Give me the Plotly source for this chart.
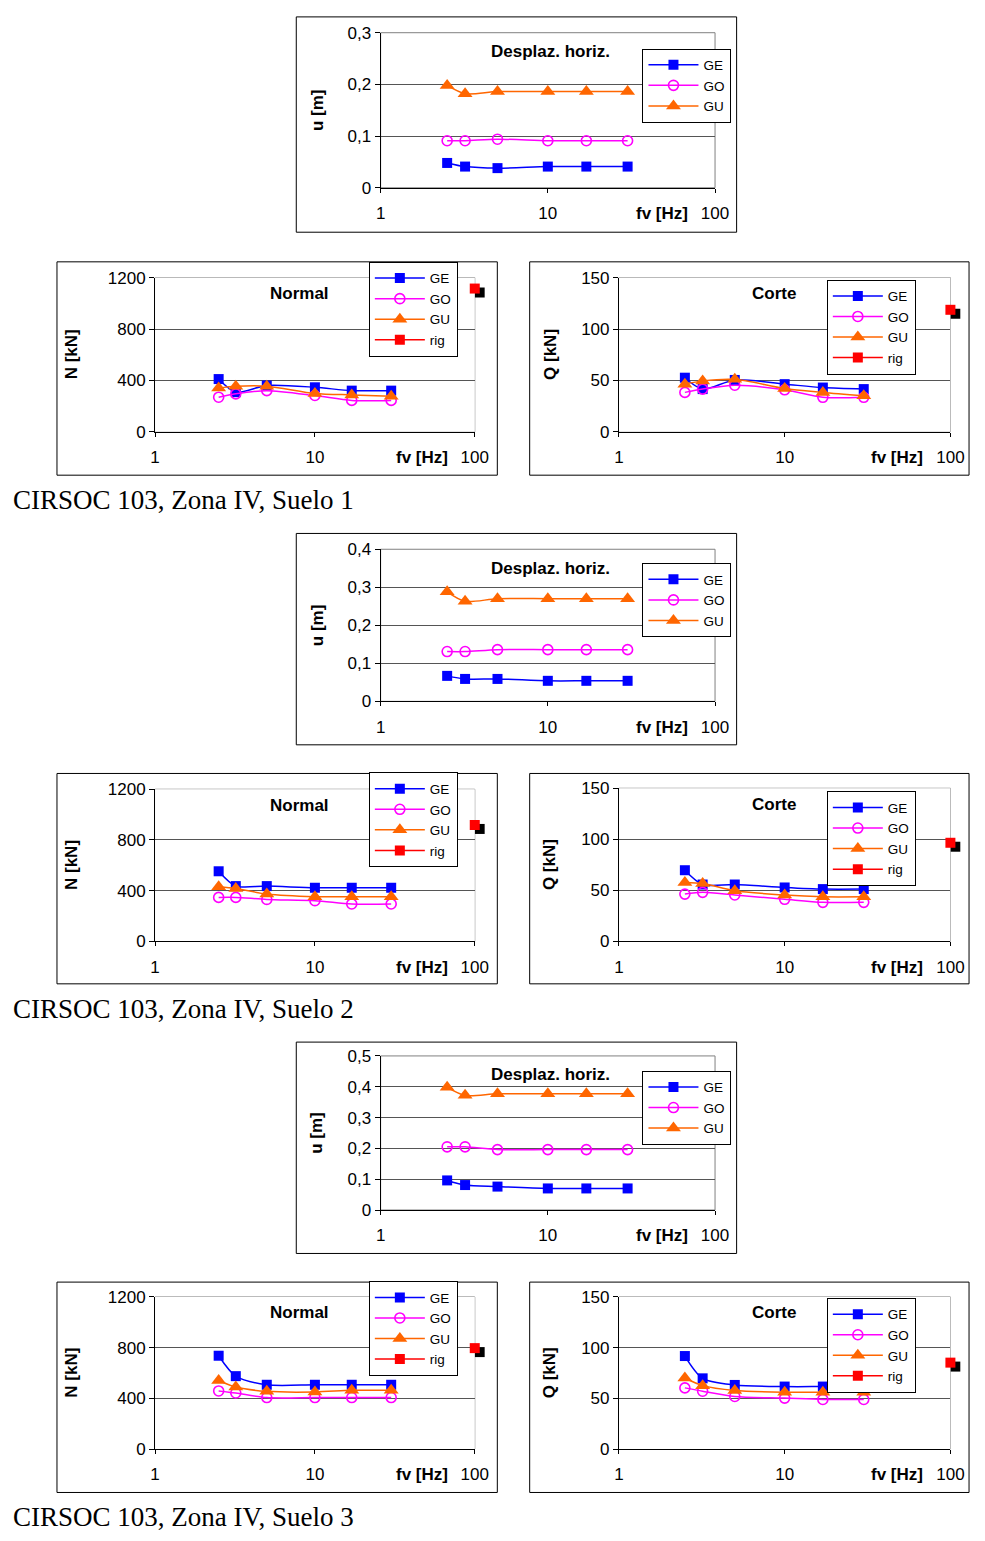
import plotly.graph_objects as go

W, H = 985, 1541

# ---------------- data ----------------
fv = [2.5, 3.2, 5, 10, 17, 30]
fv_rig = [100]
series_names = ["GE", "GO", "GU", "rig"]
soil_labels = ["CIRSOC 103, Zona IV, Suelo 1", "CIRSOC 103, Zona IV, Suelo 2", "CIRSOC 103, Zona IV, Suelo 3"]

# Suelo 1
u_GE_s1 = [0.048, 0.041, 0.038, 0.041, 0.041, 0.041]
u_GO_s1 = [0.091, 0.091, 0.094, 0.091, 0.091, 0.091]
u_GU_s1 = [0.198, 0.182, 0.186, 0.186, 0.186, 0.186]
N_GE_s1 = [410, 308, 360, 346, 320, 320]
N_GO_s1 = [269, 295, 320, 282, 244, 244]
N_GU_s1 = [340, 354, 355, 298, 287, 277]
N_rig_s1 = [1115]
Q_GE_s1 = [52.6, 41.5, 50.4, 46.3, 43.0, 41.5]
Q_GO_s1 = [38.3, 41.5, 45.3, 40.8, 33.5, 33.5]
Q_GU_s1 = [46.3, 49.5, 51.0, 42.0, 38.3, 35.0]
Q_rig_s1 = [118.7]

# Suelo 2
u_GE_s2 = [0.067, 0.059, 0.059, 0.054, 0.054, 0.054]
u_GO_s2 = [0.131, 0.131, 0.136, 0.136, 0.136, 0.136]
u_GU_s2 = [0.288, 0.263, 0.270, 0.270, 0.270, 0.270]
N_GE_s2 = [553, 436, 436, 423, 423, 423]
N_GO_s2 = [347, 347, 331, 321, 295, 295]
N_GU_s2 = [430, 417, 373, 352, 352, 352]
N_rig_s2 = [918]
Q_GE_s2 = [69.7, 55.7, 55.7, 52.8, 51.2, 51.2]
Q_GO_s2 = [46.3, 48.0, 45.4, 41.2, 38.2, 38.2]
Q_GU_s2 = [57.7, 56.7, 49.6, 45.4, 43.7, 43.7]
Q_rig_s2 = [96.6]

# Suelo 3
u_GE_s3 = [0.096, 0.081, 0.076, 0.070, 0.070, 0.070]
u_GO_s3 = [0.205, 0.205, 0.196, 0.196, 0.196, 0.196]
u_GU_s3 = [0.398, 0.372, 0.377, 0.377, 0.377, 0.377]
N_GE_s3 = [736, 575, 507, 507, 507, 507]
N_GO_s3 = [458, 442, 406, 406, 406, 406]
N_GU_s3 = [541, 489, 455, 450, 463, 463]
N_rig_s3 = [796]
Q_GE_s3 = [91.7, 69.7, 63.2, 61.6, 61.6, 61.6]
Q_GO_s3 = [60.3, 57.0, 51.8, 50.2, 48.9, 48.9]
Q_GU_s3 = [70.0, 62.5, 57.7, 56.0, 56.0, 56.0]
Q_rig_s3 = [85.2]

# tick labels
x_tickvals = [1, 10, 100]
x_ticktext = ["1", "10", "100"]
u_tickvals_s1 = [0, 0.1, 0.2, 0.3]
u_ticktext_s1 = ["0", "0,1", "0,2", "0,3"]
u_tickvals_s2 = [0, 0.1, 0.2, 0.3, 0.4]
u_ticktext_s2 = ["0", "0,1", "0,2", "0,3", "0,4"]
u_tickvals_s3 = [0, 0.1, 0.2, 0.3, 0.4, 0.5]
u_ticktext_s3 = ["0", "0,1", "0,2", "0,3", "0,4", "0,5"]
N_tickvals = [0, 400, 800, 1200]
N_ticktext = ["0", "400", "800", "1200"]
Q_tickvals = [0, 50, 100, 150]
Q_ticktext = ["0", "50", "100", "150"]

# ---------------- styles ----------------
SANS = "Liberation Sans"
SERIF = "Liberation Serif"
COL = {"GE": "#0000FF", "GO": "#FF00FF", "GU": "#FF6600", "rig": "#FF0000"}
MARK = {
    "GE": dict(symbol="square", size=10, color="#0000FF"),
    "GO": dict(symbol="circle-open", size=10, color="#FF00FF", line=dict(width=1.6, color="#FF00FF")),
    "GU": dict(symbol="triangle-up", size=13, color="#FF6600"),
    "rig": dict(symbol="square", size=10, color="#FF0000"),
}

def px_x(p):
    return p / W

def px_y(p):
    return 1 - p / H

groups = [
    dict(
        u=(u_GE_s1, u_GO_s1, u_GU_s1), N=(N_GE_s1, N_GO_s1, N_GU_s1, N_rig_s1),
        Q=(Q_GE_s1, Q_GO_s1, Q_GU_s1, Q_rig_s1),
        utv=u_tickvals_s1, utt=u_ticktext_s1, umax=0.3,
        top_y=(24, 181), N_y=(272, 428), Q_y=(272, 428),
        top_frame=(297, 8, 746, 226), N_frame=(53, 256, 502, 472), Q_frame=(535, 256, 983, 472),
        top_leg=(650, 40), N_leg=(371, 256), Q_leg=(838, 274), cap_y=497,
    ),
    dict(
        u=(u_GE_s2, u_GO_s2, u_GU_s2), N=(N_GE_s2, N_GO_s2, N_GU_s2, N_rig_s2),
        Q=(Q_GE_s2, Q_GO_s2, Q_GU_s2, Q_rig_s2),
        utv=u_tickvals_s2, utt=u_ticktext_s2, umax=0.4,
        top_y=(547, 701), N_y=(790, 944), Q_y=(789, 944),
        top_frame=(297, 531, 746, 745), N_frame=(53, 774, 502, 987), Q_frame=(535, 774, 983, 987),
        top_leg=(650, 561), N_leg=(371, 773), Q_leg=(838, 792), cap_y=1012,
    ),
    dict(
        u=(u_GE_s3, u_GO_s3, u_GU_s3), N=(N_GE_s3, N_GO_s3, N_GU_s3, N_rig_s3),
        Q=(Q_GE_s3, Q_GO_s3, Q_GU_s3, Q_rig_s3),
        utv=u_tickvals_s3, utt=u_ticktext_s3, umax=0.5,
        top_y=(1060, 1216), N_y=(1304, 1458), Q_y=(1304, 1458),
        top_frame=(297, 1046, 746, 1260), N_frame=(53, 1289, 502, 1502), Q_frame=(535, 1289, 983, 1502),
        top_leg=(650, 1075), N_leg=(371, 1288), Q_leg=(838, 1305), cap_y=1527,
    ),
]

TOP_X = (383, 724)
N_X = (153, 479)
Q_X = (626, 964)
SH_DX, SH_DY = 5, 4   # rig marker shadow offset (px)

fig = go.Figure()
layout = dict(shapes=[], annotations=[])

panels = []
for gi, g in enumerate(groups):
    panels.append(("u", gi))
    panels.append(("N", gi))
    panels.append(("Q", gi))

# shadow axes first so they are drawn below the real panels
shadow_panels = [p for p in panels if p[0] != "u"]
ax_id = 0
for kind, gi in shadow_panels:
    ax_id += 1
    g = groups[gi]
    xr = N_X if kind == "N" else Q_X
    yr = g["N_y"] if kind == "N" else g["Q_y"]
    layout[f"xaxis{ax_id}"] = dict(type="log", range=[0, 2],
                                   domain=[px_x(xr[0] + SH_DX), px_x(xr[1] + SH_DX)],
                                   visible=False, anchor=f"y{ax_id}", fixedrange=True)
    layout[f"yaxis{ax_id}"] = dict(range=[0, 1200 if kind == "N" else 150],
                                   domain=[px_y(yr[1] + SH_DY), px_y(yr[0] + SH_DY)],
                                   visible=False, anchor=f"x{ax_id}", fixedrange=True)
    fig.add_trace(go.Scatter(x=fv_rig, y=g[kind][3], mode="markers", xaxis=f"x{ax_id}", yaxis=f"y{ax_id}",
                             marker=dict(symbol="square", size=10, color="black"),
                             showlegend=False, cliponaxis=False, hoverinfo="skip"))

leg_id = 0
for kind, gi in panels:
    ax_id += 1
    leg_id += 1
    g = groups[gi]
    if kind == "u":
        xr, yr, ymax = TOP_X, g["top_y"], g["umax"]
        tv, tt = g["utv"], g["utt"]
        frame, leg = g["top_frame"], g["top_leg"]
        title, ylab = "Desplaz. horiz.", "u [m]"
        title_pos = (556, yr[0] + 19)
        ylab_x = 318
        data = g["u"]
    elif kind == "N":
        xr, yr, ymax = N_X, g["N_y"], 1200
        tv, tt = N_tickvals, N_ticktext
        frame, leg = g["N_frame"], g["N_leg"]
        title, ylab = "Normal", "N [kN]"
        title_pos = (300, yr[0] + 16)
        ylab_x = 68
        data = g["N"]
    else:
        xr, yr, ymax = Q_X, g["Q_y"], 150
        tv, tt = Q_tickvals, Q_ticktext
        frame, leg = g["Q_frame"], g["Q_leg"]
        title, ylab = "Corte", "Q [kN]"
        title_pos = (784, yr[0] + 16)
        ylab_x = 556
        data = g["Q"]

    layout[f"xaxis{ax_id}"] = dict(
        type="log", range=[0, 2], domain=[px_x(xr[0]), px_x(xr[1])], anchor=f"y{ax_id}",
        tickvals=x_tickvals, ticktext=x_ticktext, showgrid=False, showline=True,
        linecolor="black", linewidth=1, ticks="outside", ticklen=4, tickcolor="black",
        tickfont=dict(family=SANS, size=17, color="black"), ticklabelstandoff=6,
        zeroline=False, fixedrange=True)
    layout[f"yaxis{ax_id}"] = dict(
        range=[0, ymax], domain=[px_y(yr[1]), px_y(yr[0])], anchor=f"x{ax_id}",
        tickvals=tv, ticktext=tt, showgrid=True, gridcolor="#555555", gridwidth=1,
        showline=True, linecolor="black", linewidth=1, ticks="outside", ticklen=5,
        tickcolor="black", tickfont=dict(family=SANS, size=17, color="black"),
        zeroline=False, fixedrange=True)

    legname = "legend" if leg_id == 1 else f"legend{leg_id}"
    layout[legname] = dict(
        x=px_x(leg[0]), y=px_y(leg[1]), xanchor="left", yanchor="top",
        bgcolor="white", bordercolor="black", borderwidth=1,
        font=dict(family=SANS, size=13.5, color="black"), itemwidth=50,
        tracegroupgap=0, traceorder="normal",
    )

    for si, name in enumerate(series_names[:3]):
        fig.add_trace(go.Scatter(
            x=fv, y=data[si], mode="lines+markers", name=name,
            xaxis=f"x{ax_id}", yaxis=f"y{ax_id}", legend=legname,
            line=dict(color=COL[name], width=1.5, shape="spline", smoothing=0.8),
            marker=MARK[name], cliponaxis=False,
        ))
    if kind != "u":
        fig.add_trace(go.Scatter(
            x=fv_rig, y=data[3], mode="lines+markers", name="rig",
            xaxis=f"x{ax_id}", yaxis=f"y{ax_id}", legend=legname,
            line=dict(color=COL["rig"], width=1.5), marker=MARK["rig"], cliponaxis=False,
        ))

    layout["shapes"].append(dict(type="rect", xref=f"x{ax_id} domain", yref=f"y{ax_id} domain",
                                 x0=0, x1=1, y0=0, y1=1, line=dict(color="#808080", width=1),
                                 layer="below"))
    layout["shapes"].append(dict(type="rect", xref="paper", yref="paper",
                                 x0=px_x(frame[0]), x1=px_x(frame[2]),
                                 y0=px_y(frame[3]), y1=px_y(frame[1]),
                                 line=dict(color="black", width=1), layer="below"))
    layout["annotations"].append(dict(text=f"<b>{title}</b>", xref="paper", yref="paper",
                                      x=px_x(title_pos[0]), y=px_y(title_pos[1]),
                                      xanchor="center", yanchor="middle", showarrow=False,
                                      font=dict(family=SANS, size=17, color="black")))
    layout["annotations"].append(dict(text="<b>fv [Hz]</b>", xref="paper", yref="paper",
                                      x=px_x(xr[1] - 54), y=px_y(yr[1] + 26),
                                      xanchor="center", yanchor="middle", showarrow=False,
                                      font=dict(family=SANS, size=17, color="black")))
    layout["annotations"].append(dict(text=f"<b>{ylab}</b>", xref="paper", yref="paper",
                                      x=px_x(ylab_x), y=px_y((yr[0] + yr[1]) / 2),
                                      xanchor="center", yanchor="middle", showarrow=False,
                                      textangle=-90,
                                      font=dict(family=SANS, size=17, color="black")))

for gi, g in enumerate(groups):
    layout["annotations"].append(dict(text=soil_labels[gi], xref="paper", yref="paper",
                                      x=px_x(6), y=px_y(g["cap_y"]), xanchor="left",
                                      yanchor="middle", showarrow=False,
                                      font=dict(family=SERIF, size=27, color="black")))

fig.update_layout(
    width=W, height=H, margin=dict(l=0, r=0, t=0, b=0),
    paper_bgcolor="white", plot_bgcolor="white",
    font=dict(family=SANS, size=17, color="black"),
    **layout,
)

fig.write_html(
    "out.html",
    config={"displayModeBar": False, "responsive": False},
    post_script=("document.documentElement.style.margin='0';document.documentElement.style.overflow='hidden';"
                 "document.body.style.margin='0';document.body.style.padding='0';"
                 "document.body.style.overflow='hidden';"),
)
